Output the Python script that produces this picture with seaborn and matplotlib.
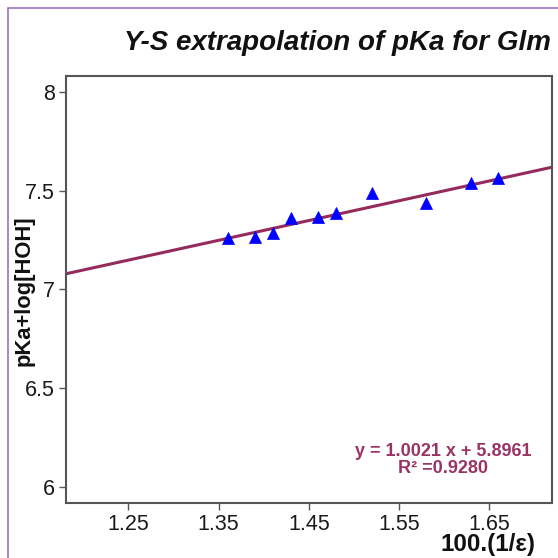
import matplotlib
matplotlib.use("Agg")
import matplotlib.pyplot as plt
from matplotlib.patches import Rectangle
import numpy as np
import pandas as pd
import seaborn as sns

# Reciprocal dielectric constant (x100) and pKa + log[HOH]
inv_eps = [1.36, 1.39, 1.41, 1.43, 1.46, 1.48, 1.52, 1.58, 1.63, 1.66]
pka_log = [7.262, 7.267, 7.284, 7.36, 7.369, 7.386, 7.487, 7.44, 7.538, 7.566]

# Linear fit reported on the chart
slope = 1.0021
intercept = 5.8961
r_squared = 0.9280

x_ticks = [1.25, 1.35, 1.45, 1.55, 1.65]
y_ticks = [6, 6.5, 7, 7.5, 8]
y_tick_labels = ["6", "6.5", "7", "7.5", "8"]
x_limits = (1.181, 1.7195)
y_limits = (5.919, 8.081)

sns.set_theme(style="white")
plt.rcParams["font.family"] = ["Liberation Sans", "DejaVu Sans"]

fig = plt.figure(figsize=(5.58, 5.58), dpi=100)
ax = fig.add_axes([66 / 558, 55 / 558, 486 / 558, 427 / 558])

line_color = "#952b5c"
frame_color = "#555555"

df = pd.DataFrame({"x": inv_eps, "y": pka_log})
fit_x = np.array(x_limits)
fit_df = pd.DataFrame({"x": fit_x, "y": slope * fit_x + intercept})

sns.lineplot(data=fit_df, x="x", y="y", ax=ax, color=line_color, lw=2.2, zorder=2)
sns.scatterplot(data=df, x="x", y="y", ax=ax, marker="^", s=75, color="#0000ff",
                edgecolor="#0000ff", linewidth=0.5, zorder=3)

ax.set_xlim(*x_limits)
ax.set_ylim(*y_limits)
ax.set_xticks(x_ticks)
ax.set_xticklabels([f"{t:.2f}" for t in x_ticks])
ax.set_yticks(y_ticks)
ax.set_yticklabels(y_tick_labels)
ax.tick_params(axis="both", which="major", direction="out", length=5, width=1,
               color=frame_color, labelsize=15.5, labelcolor="#1a1a1a", pad=3,
               bottom=True, left=True)
for sp in ax.spines.values():
    sp.set_color(frame_color)
    sp.set_linewidth(1.5)

ax.set_xlabel("")
ax.set_ylabel("")

fig.text(24 / 558, 1 - 291 / 558, "pKa+log[HOH]", ha="center", va="center",
         rotation=90, fontsize=15.8, fontweight="bold", color="#111111")

fig.text(536 / 558, 1 - 545 / 558, "100.(1/ε)", ha="right", va="center",
         fontsize=17.5, fontweight="bold", color="#111111")

fig.text(551 / 558, 1 - 43 / 558, "Y-S extrapolation of pKa for Glm", ha="right",
         va="center", fontsize=20, fontweight="bold", fontstyle="italic", color="#111111")

fig.text(443 / 558, 1 - 460 / 558, f"y = {slope:.4f} x + {intercept:.4f}\nR² ={r_squared:.4f}",
         ha="center", va="center", fontsize=13, fontweight="bold", color="#993366",
         linespacing=1.0)

# Outer purple frame
fig.patches.append(Rectangle((7.5 / 558, -0.5), 2, 1 - 8 / 558 + 0.5, transform=fig.transFigure,
                             fill=False, edgecolor="#9b72c0", linewidth=1.2))

fig.savefig("out.png", dpi=100)
